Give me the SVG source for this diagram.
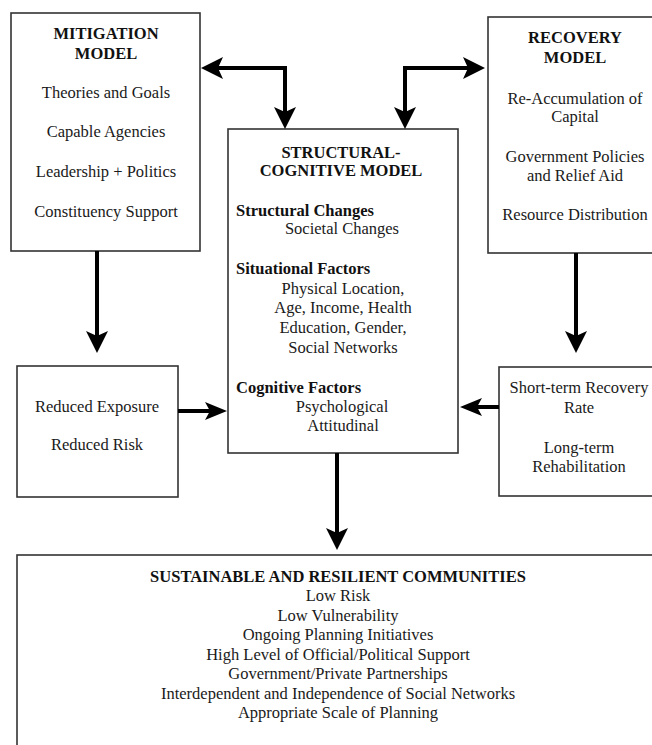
<svg xmlns="http://www.w3.org/2000/svg" width="652" height="745" viewBox="0 0 652 745">
<style>
  .box { fill: #ffffff; stroke: #333333; stroke-width: 1.6; }
  text { font-family: "Liberation Serif", "Times New Roman", serif; font-size: 16.5px; fill: #1a1a1a; }
  .c { text-anchor: middle; }
  .b { font-weight: bold; fill: #111111; }
  .conn { fill: none; stroke: #000000; stroke-width: 4; stroke-linejoin: miter; }
</style>
<defs>
  <marker id="ah" viewBox="0 0 22 22" refX="12" refY="11" markerWidth="22" markerHeight="22" markerUnits="userSpaceOnUse" orient="auto-start-reverse">
    <path d="M0,0 L22,11 L0,22 L5,11 z" fill="#000000"/>
  </marker>
  <marker id="ahs" viewBox="0 0 22 18" refX="12" refY="9" markerWidth="22" markerHeight="18" markerUnits="userSpaceOnUse" orient="auto-start-reverse">
    <path d="M0,0 L22,9 L0,18 L5,9 z" fill="#000000"/>
  </marker>
</defs>
<rect width="652" height="745" fill="#ffffff"/>

<g id="mitigation">
  <rect class="box" x="11" y="13" width="189" height="238"/>
  <text class="c b" x="106" y="38.5">MITIGATION</text>
  <text class="c b" x="106" y="58.5">MODEL</text>
  <text class="c" x="106" y="97.5">Theories and Goals</text>
  <text class="c" x="106" y="136.5">Capable Agencies</text>
  <text class="c" x="106" y="176.5">Leadership + Politics</text>
  <text class="c" x="106" y="216.5">Constituency Support</text>
</g>

<g id="recovery">
  <rect class="box" x="488" y="17" width="180" height="236"/>
  <text class="c b" x="575" y="42.5">RECOVERY</text>
  <text class="c b" x="575" y="62.5">MODEL</text>
  <text class="c" x="575" y="103.5">Re-Accumulation of</text>
  <text class="c" x="575" y="121.5">Capital</text>
  <text class="c" x="575" y="161.5">Government Policies</text>
  <text class="c" x="575" y="180.5">and Relief Aid</text>
  <text class="c" x="575" y="219.5">Resource Distribution</text>
</g>

<g id="structural-cognitive">
  <rect class="box" x="228" y="129" width="230" height="324"/>
  <text class="c b" x="341" y="157.5">STRUCTURAL-</text>
  <text class="c b" x="341" y="175.5">COGNITIVE MODEL</text>
  <text class="b" x="236" y="215.5">Structural Changes</text>
  <text class="c" x="342" y="233.5">Societal Changes</text>
  <text class="b" x="236" y="273.5">Situational Factors</text>
  <text class="c" x="343" y="293.5">Physical Location,</text>
  <text class="c" x="343" y="312.5">Age, Income, Health</text>
  <text class="c" x="343" y="332.5">Education, Gender,</text>
  <text class="c" x="343" y="352.5">Social Networks</text>
  <text class="b" x="236" y="392.5">Cognitive Factors</text>
  <text class="c" x="342" y="411.5">Psychological</text>
  <text class="c" x="343" y="430.5">Attitudinal</text>
</g>

<g id="reduced">
  <rect class="box" x="17" y="366" width="161" height="131"/>
  <text class="c" x="97" y="411.5">Reduced Exposure</text>
  <text class="c" x="97" y="449.5">Reduced Risk</text>
</g>

<g id="short-term">
  <rect class="box" x="499" y="367" width="170" height="129"/>
  <text class="c" x="579" y="392.5">Short-term Recovery</text>
  <text class="c" x="579" y="412.5">Rate</text>
  <text class="c" x="579" y="452.5">Long-term</text>
  <text class="c" x="579" y="471.5">Rehabilitation</text>
</g>

<g id="sustainable">
  <rect class="box" x="17" y="555" width="650" height="210"/>
  <text class="c b" x="338" y="581.5">SUSTAINABLE AND RESILIENT COMMUNITIES</text>
  <text class="c" x="338" y="601">Low Risk</text>
  <text class="c" x="338" y="620.5">Low Vulnerability</text>
  <text class="c" x="338" y="640">Ongoing Planning Initiatives</text>
  <text class="c" x="338" y="659.5">High Level of Official/Political Support</text>
  <text class="c" x="338" y="679">Government/Private Partnerships</text>
  <text class="c" x="338" y="698.5">Interdependent and Independence of Social Networks</text>
  <text class="c" x="338" y="718">Appropriate Scale of Planning</text>
</g>

<g id="connectors">
  <path class="conn" d="M211,68 L285,68 L285,119" marker-start="url(#ah)" marker-end="url(#ah)"/>
  <path class="conn" d="M405,119 L405,68 L475,68" marker-start="url(#ah)" marker-end="url(#ah)"/>
  <path class="conn" d="M97,251 L97,343" marker-end="url(#ah)"/>
  <path class="conn" d="M576,253 L576,343" marker-end="url(#ah)"/>
  <path class="conn" d="M178,411 L217,411" marker-end="url(#ahs)"/>
  <path class="conn" d="M499,407 L470,407" marker-end="url(#ahs)"/>
  <path class="conn" d="M337,453 L337,540" marker-end="url(#ah)"/>
</g>
</svg>
